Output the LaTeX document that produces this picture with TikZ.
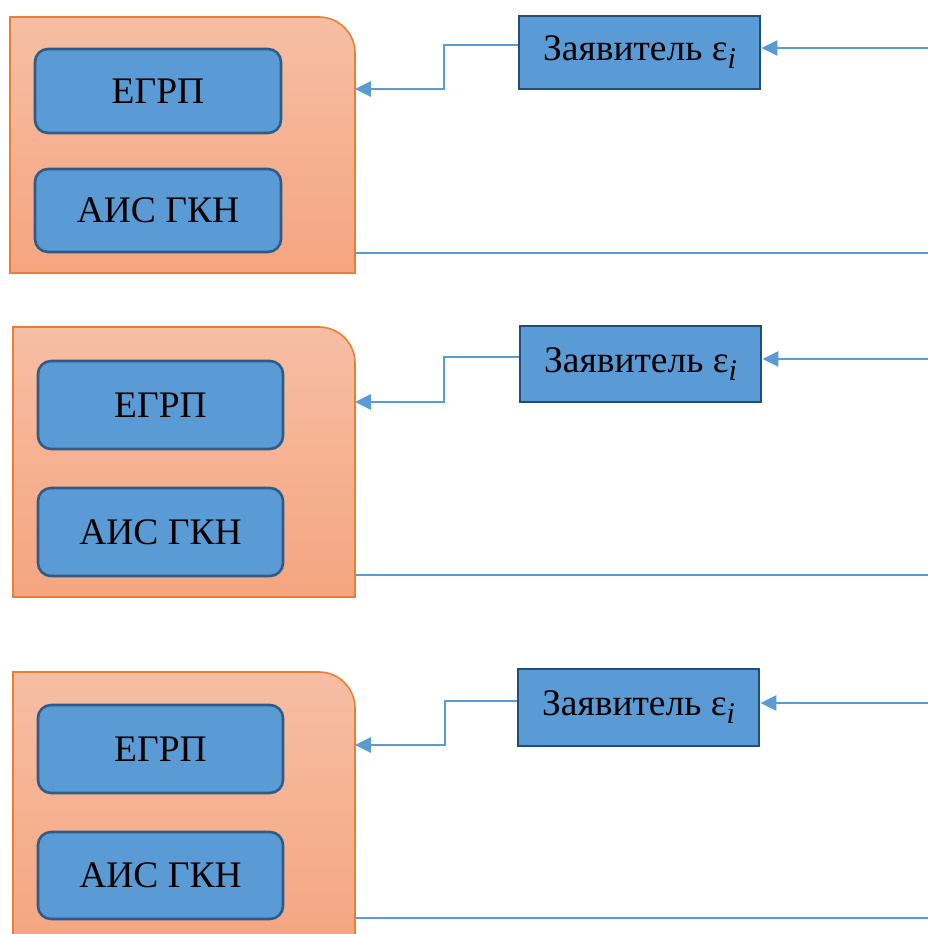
\documentclass[tikz,border=0pt]{standalone}
\usepackage{fontspec}
\setmainfont{Liberation Serif}
\usetikzlibrary{arrows.meta}
\definecolor{boxblue}{HTML}{5B9BD5}
\definecolor{boxedge}{HTML}{2E5B88}
\definecolor{zaedge}{HTML}{1F4E79}
\definecolor{orgtop}{HTML}{F6BEA4}
\definecolor{orgbot}{HTML}{F5A580}
\definecolor{orgedge}{HTML}{ED7D31}
\definecolor{linecol}{HTML}{5B9BD5}
\tikzset{
  sysbox/.style={draw=boxedge, line width=2.6pt, fill=boxblue, rounded corners=13pt,
    inner sep=0pt, font=\fontsize{37.5}{40}\selectfont},
  zabox/.style={draw=zaedge, line width=2.8pt, fill=boxblue, inner sep=0pt,
    font=\fontsize{37.5}{40}\selectfont},
  orgpanel/.style={top color=orgtop, bottom color=orgbot, draw=orgedge, line width=1.6pt},
  conn/.style={draw=linecol, line width=2.8pt},
  arr/.style={conn, -{Triangle[length=16pt,width=15pt]}},
}
\newcommand{\zatext}{Заявитель ε\raisebox{-8pt}{\fontsize{30}{30}\selectfont\itshape i}}
\newcommand{\orgshape}[4]{%
  \path[orgpanel] (#1,#4) -- (#1,#2) -- ({#3-36},#2)
    .. controls ({#3-16.1},#2) and (#3,{#2+16.1}) .. (#3,{#2+36}) -- (#3,#4) -- cycle;}
\begin{document}
\begin{tikzpicture}[x=1pt,y=-1pt]
\useasboundingbox (0,0) rectangle (928,934);
\clip (0,0) rectangle (928,934);

% ---------- block 1 ----------
\orgshape{10}{17}{355}{273}
\node[sysbox, minimum width=246pt, minimum height=84pt] (egrp1) at (158,91) {ЕГРП};
\node[sysbox, minimum width=246pt, minimum height=83pt] (ais1) at (158,210.5) {АИС ГКН};
\node[zabox, minimum width=241pt, minimum height=73pt] (za1) at (639.5,52.5) {\zatext};
\coordinate (k1) at (444,89);
\coordinate (in1) at (355,89);
\coordinate (r1) at (928,48);
\coordinate (out1) at (355,253);
\coordinate (e1) at (928,253);
\draw[arr] ([yshift=7.5pt]za1.west) -| (k1) -- (in1);
\draw[arr] (r1) -- (za1.east |- r1);
\draw[conn] (out1) -- (e1);

% ---------- block 2 ----------
\orgshape{13}{327}{355}{597}
\node[sysbox, minimum width=245pt, minimum height=88pt] (egrp2) at (160.5,405) {ЕГРП};
\node[sysbox, minimum width=245pt, minimum height=88pt] (ais2) at (160.5,532) {АИС ГКН};
\node[zabox, minimum width=241pt, minimum height=76pt] (za2) at (640.5,364) {\zatext};
\coordinate (k2) at (444,402);
\coordinate (in2) at (355,402);
\coordinate (r2) at (928,359);
\coordinate (out2) at (355,575);
\coordinate (e2) at (928,575);
\draw[arr] ([yshift=7pt]za2.west) -| (k2) -- (in2);
\draw[arr] (r2) -- (za2.east |- r2);
\draw[conn] (out2) -- (e2);

% ---------- block 3 ----------
\orgshape{13}{672}{355}{950}
\node[sysbox, minimum width=245pt, minimum height=88pt] (egrp3) at (160.5,749) {ЕГРП};
\node[sysbox, minimum width=245pt, minimum height=87pt] (ais3) at (160.5,875.5) {АИС ГКН};
\node[zabox, minimum width=241pt, minimum height=77pt] (za3) at (638.5,707.5) {\zatext};
\coordinate (k3) at (445,745);
\coordinate (in3) at (355,745);
\coordinate (r3) at (928,703);
\coordinate (out3) at (355,918);
\coordinate (e3) at (928,918);
\draw[arr] ([yshift=6.5pt]za3.west) -| (k3) -- (in3);
\draw[arr] (r3) -- (za3.east |- r3);
\draw[conn] (out3) -- (e3);
\end{tikzpicture}
\end{document}
